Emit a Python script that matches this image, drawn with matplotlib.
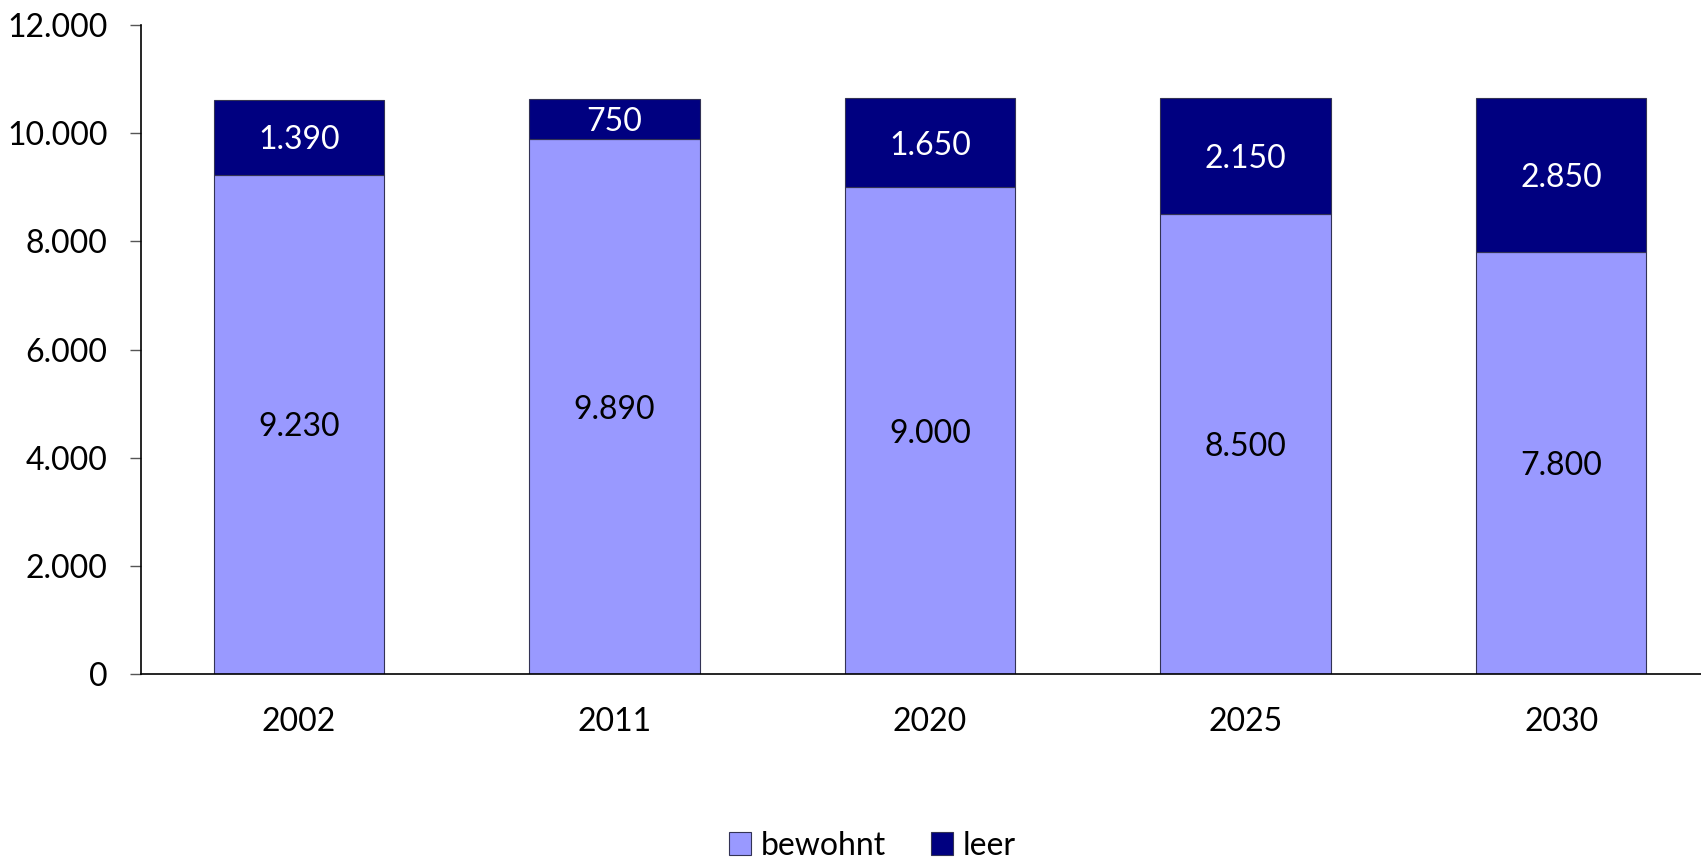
import matplotlib
matplotlib.use("Agg")
import matplotlib.pyplot as plt
import numpy as np
from matplotlib.ticker import FuncFormatter

plt.rcParams['font.family'] = ['Lato', 'DejaVu Sans']

years = ["2002", "2011", "2020", "2025", "2030"]
bewohnt = [9230, 9890, 9000, 8500, 7800]
leer = [1390, 750, 1650, 2150, 2850]
labels_bewohnt = ["9.230", "9.890", "9.000", "8.500", "7.800"]
labels_leer = ["1.390", "750", "1.650", "2.150", "2.850"]

c_light = "#9999FF"
c_dark = "#000080"
fs = 23

fig = plt.figure(figsize=(17.01, 8.61), dpi=100)
ax = fig.add_axes([141/1701, 1-674/861, (1719-141)/1701, (674-25)/861])

x = np.arange(len(years))
w = 0.54
b1 = ax.bar(x, bewohnt, w, color=c_light, edgecolor="#333355", linewidth=0.8, label="bewohnt")
b2 = ax.bar(x, leer, w, bottom=bewohnt, color=c_dark, edgecolor="#333355", linewidth=0.8, label="leer")

for i in range(len(years)):
    ax.text(x[i], bewohnt[i] / 2, labels_bewohnt[i], ha="center", va="center_baseline",
            fontsize=fs, color="black")
    ax.text(x[i], bewohnt[i] + leer[i] / 2, labels_leer[i], ha="center", va="center_baseline",
            fontsize=fs, color="white")

ax.set_xlim(-0.5, 4.5)
ax.set_ylim(0, 12000)
ax.set_yticks(range(0, 12001, 2000))
ax.yaxis.set_major_formatter(FuncFormatter(lambda v, p: f"{int(v):,}".replace(",", ".")))
ax.set_xticks(x)
ax.set_xticklabels(years)
ax.tick_params(axis="x", length=0, pad=24, labelsize=fs)
ax.tick_params(axis="y", length=8, width=1, color="#555555", pad=16, labelsize=fs)
for s in ["top", "right"]:
    ax.spines[s].set_visible(False)
ax.spines["left"].set_linewidth(1.2)
ax.spines["bottom"].set_linewidth(1.2)

leg = fig.legend(handles=[b1, b2], labels=["bewohnt", "leer"], loc="center",
                 bbox_to_anchor=(0.513, 0.018), ncol=2, frameon=False, fontsize=fs,
                 handlelength=0.7, handleheight=0.7, handletextpad=0.3, columnspacing=1.4)

fig.savefig("out.png", dpi=100)
